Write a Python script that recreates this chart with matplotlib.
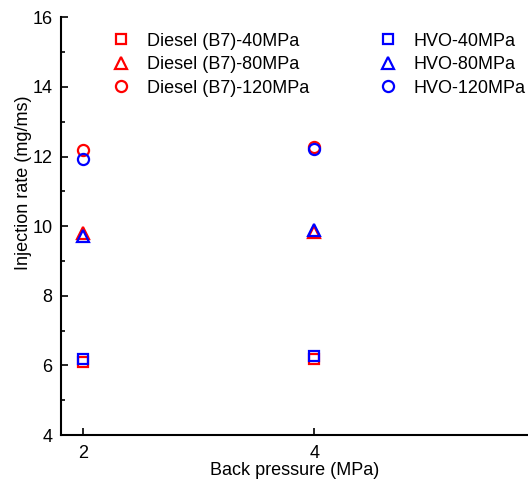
import matplotlib
matplotlib.use('Agg')
import matplotlib.pyplot as plt
from matplotlib.ticker import MultipleLocator

plt.rcParams['font.family'] = ['Liberation Sans', 'DejaVu Sans']

# Data
back_pressure = [2, 4]
diesel_40 = [6.10, 6.17]
diesel_80 = [9.80, 9.83]
diesel_120 = [12.18, 12.27]
hvo_40 = [6.17, 6.28]
hvo_80 = [9.72, 9.88]
hvo_120 = [11.93, 12.22]

series = [
    ('Diesel (B7)-40MPa', diesel_40, 's', 'red'),
    ('Diesel (B7)-80MPa', diesel_80, '^', 'red'),
    ('Diesel (B7)-120MPa', diesel_120, 'o', 'red'),
    ('HVO-40MPa', hvo_40, 's', 'blue'),
    ('HVO-80MPa', hvo_80, '^', 'blue'),
    ('HVO-120MPa', hvo_120, 'o', 'blue'),
]
sizes = {'s': 6.5, '^': 8.5, 'o': 8}
FS = 13

fig = plt.figure(figsize=(5.28, 4.82), dpi=100)
ax = fig.add_axes([0.1155, 0.0975, 0.8845, 0.8665])

for label, vals, mk, col in series:
    ax.plot(back_pressure, vals, linestyle='none', marker=mk, markersize=sizes[mk],
            markerfacecolor='none', markeredgecolor=col, markeredgewidth=1.6,
            label=label)

ax.set_xlim(1.81, 5.85)
ax.set_ylim(4, 16)
ax.set_xticks([2, 4])
ax.yaxis.set_major_locator(MultipleLocator(2))
ax.yaxis.set_minor_locator(MultipleLocator(1))
ax.tick_params(which='both', direction='in', labelsize=FS, width=1.2)
ax.tick_params(which='major', length=5)
ax.tick_params(which='minor', length=3)
ax.tick_params(axis='x', pad=7)
ax.tick_params(axis='y', pad=6)

for side in ['top', 'right']:
    ax.spines[side].set_visible(False)
for side in ['left', 'bottom']:
    ax.spines[side].set_linewidth(1.5)

ax.set_xlabel('Back pressure (MPa)', fontsize=FS, labelpad=0)
ax.set_ylabel('Injection rate (mg/ms)', fontsize=FS)
ax.yaxis.set_label_coords(-0.062, 0.603)

ax.legend(loc='upper left', bbox_to_anchor=(0.09, 0.963), ncol=2, frameon=False,
          fontsize=FS, columnspacing=3.35, handlelength=2.0, handletextpad=0.42,
          labelspacing=0.36, borderaxespad=0, borderpad=0)

fig.savefig('out.png', dpi=100)
